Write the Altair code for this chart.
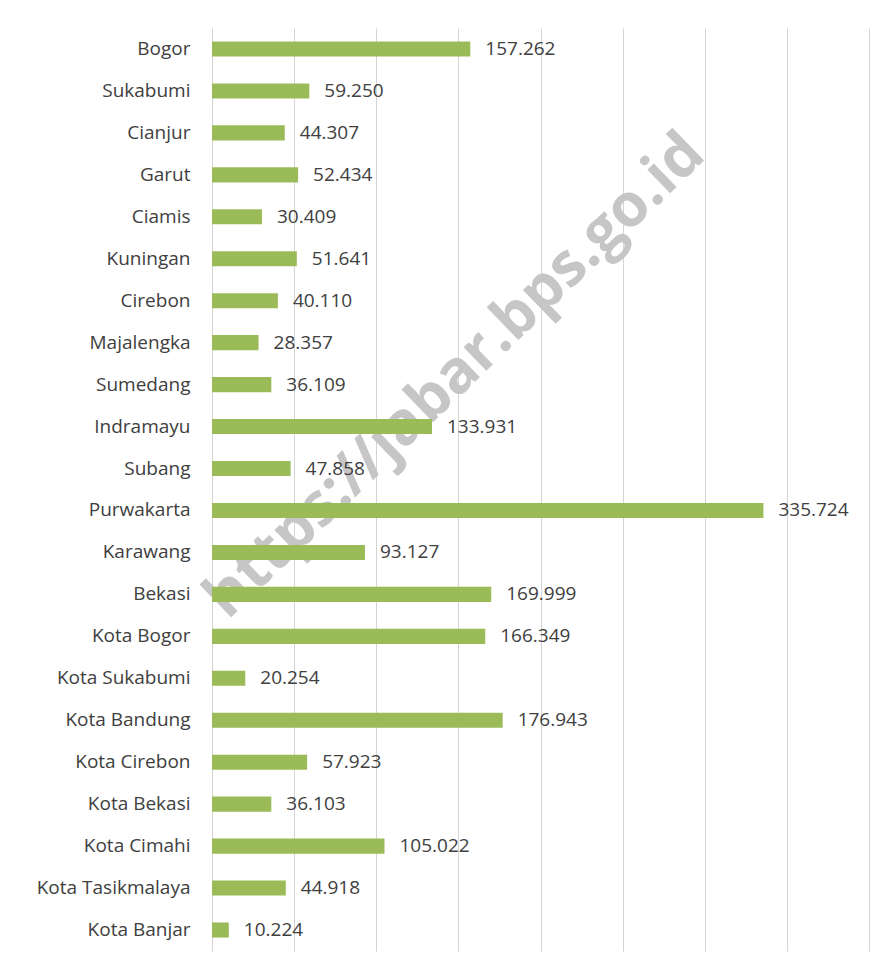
import altair as alt
import pandas as pd

regions = [
    "Bogor", "Sukabumi", "Cianjur", "Garut", "Ciamis", "Kuningan", "Cirebon",
    "Majalengka", "Sumedang", "Indramayu", "Subang", "Purwakarta", "Karawang",
    "Bekasi", "Kota Bogor", "Kota Sukabumi", "Kota Bandung", "Kota Cirebon",
    "Kota Bekasi", "Kota Cimahi", "Kota Tasikmalaya", "Kota Banjar",
]
values = [
    157262, 59250, 44307, 52434, 30409, 51641, 40110,
    28357, 36109, 133931, 47858, 335724, 93127,
    169999, 166349, 20254, 176943, 57923,
    36103, 105022, 44918, 10224,
]
x_ticks = [0, 50000, 100000, 150000, 200000, 250000, 300000, 350000, 400000]
watermark = "https://jabar.bps.go.id"

df = pd.DataFrame({"region": regions, "value": values})

FONT = "Open Sans"
TEXT_COLOR = "#404040"

y_enc = alt.Y(
    "region:N",
    sort=regions,
    title=None,
    scale=alt.Scale(paddingInner=0.64, paddingOuter=0.32),
    axis=alt.Axis(
        labelFont=FONT, labelFontSize=19, labelColor=TEXT_COLOR,
        labelPadding=22, ticks=False, domain=False, grid=False,
    ),
)
x_enc = alt.X(
    "value:Q",
    title=None,
    scale=alt.Scale(domain=[0, 400000], nice=False),
    axis=alt.Axis(
        values=x_ticks, labels=False, ticks=False, domain=False,
        grid=True, gridColor="#d4d4d4", gridWidth=1,
    ),
)

wm = alt.Chart(pd.DataFrame({"t": [watermark]})).mark_text(
    font=FONT, fontSize=60, fontWeight="bold", color="#c6c6c6",
    angle=316, align="center", baseline="middle",
).encode(x=alt.value(243), y=alt.value(348), text="t:N")

bars = alt.Chart(df).mark_bar(color="#9BBB59").encode(y=y_enc, x=x_enc)

labels = alt.Chart(df).transform_calculate(
    lbl="replace(format(datum.value, ','), ',', '.')"
).mark_text(
    align="left", baseline="middle", dx=15,
    font=FONT, fontSize=19, color=TEXT_COLOR,
).encode(y=alt.Y("region:N", sort=regions), x="value:Q", text="lbl:N")

chart = alt.layer(wm, bars, labels).properties(
    width=657, height=923,
    autosize=alt.AutoSizeParams(type="none"),
    padding={"left": 204, "top": 20, "right": 10, "bottom": 10},
).configure(background="white").configure_view(stroke=None)

chart.save("out.html", embed_options={"renderer": "svg", "actions": False})
